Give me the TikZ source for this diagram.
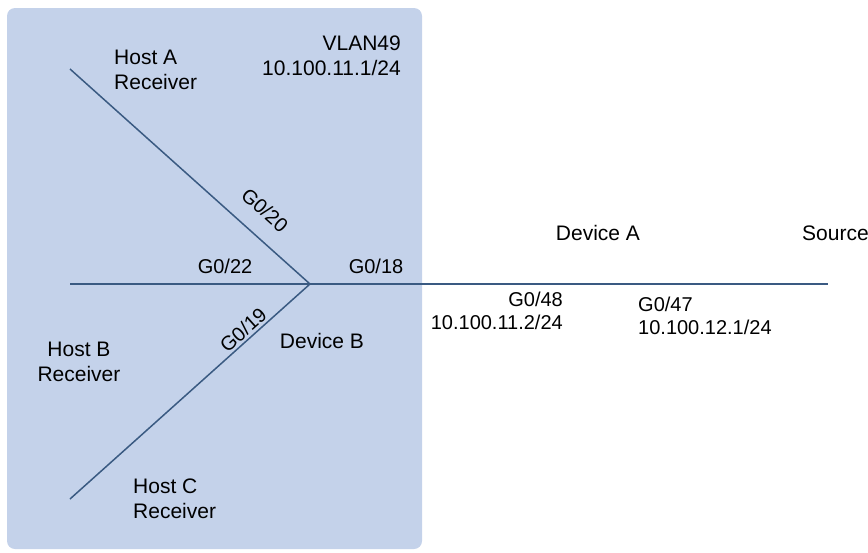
\documentclass[tikz,border=0pt]{standalone}
\usepackage{fontspec}
\setmainfont{Liberation Sans}
\usepackage{tikz}
\usetikzlibrary{positioning}
\definecolor{vlanfill}{HTML}{C4D2EA}
\definecolor{linkblue}{HTML}{3A5A82}
\tikzstyle{vlanbox}=[fill=vlanfill, draw=none, rounded corners=8pt]
\tikzstyle{link}=[draw=linkblue, line width=1.5pt]
\tikzstyle{lbl}=[inner sep=0pt, font=\fontsize{21}{25}\selectfont, text=black]
\tikzstyle{port}=[lbl, font=\fontsize{20}{23}\selectfont]

\begin{document}
\begin{tikzpicture}[x=1pt, y=-1pt]
\useasboundingbox (0,0) rectangle (868,552);
\fill[vlanbox] (7,8) rectangle (422,549);
% ends of the links
\coordinate (devB) at (310,284);
\coordinate (hostA) at (70,69);
\coordinate (hostB) at (70,284);
\coordinate (hostC) at (70,499);
\coordinate (src) at (828,284);
\draw[link] (hostA) -- (devB);
\draw[link] (hostB) -- (devB);
\draw[link] (hostC) -- (devB);
\draw[link] (devB) -- (src);
% texts
\node [lbl, anchor=west, align=left] (hostAlbl) at (114,70) {Host A\\Receiver};
\node [lbl, anchor=east, align=right] (vlan) at (401,56) {VLAN49\\10.100.11.1/24};
\node [lbl, align=center] (hostBlbl) at (79,362) {Host B\\Receiver};
\node [lbl, anchor=west, align=left] (hostClbl) at (133,499) {Host C\\Receiver};
\node [lbl] (devBlbl) at (322,341) {Device B};
\node [lbl] (devAlbl) at (598,233) {Device A};
\node [lbl, anchor=west] (srclbl) at (802,233) {Source};
\node [port, rotate=-42] (p20) at (265,210) {G0/20};
\node [port] (p22) at (225,266) {G0/22};
\node [port] (p18) at (376,266) {G0/18};
\node [port, rotate=42] (p19) at (243,330) {G0/19};
\node [port, anchor=east, align=right] (p48) at (563,311) {G0/48\\10.100.11.2/24};
\node [port, anchor=west, align=left] (p47) at (638,316) {G0/47\\10.100.12.1/24};
\end{tikzpicture}
\end{document}
